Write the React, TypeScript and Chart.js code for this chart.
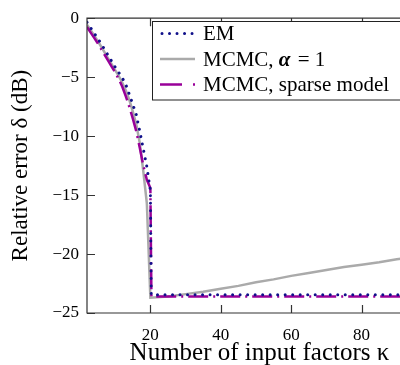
import React, { useEffect, useRef } from 'react';
import { Chart, registerables } from 'chart.js';

Chart.register(...registerables);

// ---- data ----
const seriesLabels = ['EM', 'MCMC, ', 'MCMC, sparse model'];
const xTickValues = [20, 40, 60, 80];
const yTickValues = [0, -5, -10, -15, -20, -25];
const xTitle = 'Number of input factors κ';
const yTitle = 'Relative error δ (dB)';

const emX = [2, 3, 4, 5, 6, 7, 8, 9, 10, 11, 12, 13, 14, 15, 16, 17, 18, 19, 20, 20.25, 30, 40, 50, 60, 70, 80, 90, 100];
const emY = [-0.35, -0.8, -1.25, -1.7, -2.15, -2.65, -3.15, -3.65, -4.15, -4.6, -5.05, -5.6, -6.45, -7.3, -8.2, -9.6, -11.1, -12.6, -14.6, -23.45, -23.45, -23.45, -23.45, -23.45, -23.45, -23.45, -23.45, -23.45];

const mcmcX = [2, 3, 4, 5, 6, 7, 8, 9, 10, 11, 12, 13, 14, 15, 16, 17, 18, 19, 20, 25, 30, 35, 40, 45, 50, 55, 60, 65, 70, 75, 80, 85, 90, 95, 100];
const mcmcY = [-0.55, -1.0, -1.45, -1.9, -2.4, -2.9, -3.4, -3.9, -4.4, -4.9, -5.45, -6.1, -6.9, -7.9, -9.0, -10.6, -13.0, -15.7, -23.7, -23.6, -23.4, -23.2, -22.95, -22.7, -22.4, -22.15, -21.85, -21.6, -21.35, -21.1, -20.9, -20.7, -20.45, -20.25, -20.05];

const sparseX = [2, 3, 4, 5, 6, 7, 8, 9, 10, 11, 12, 13, 14, 15, 16, 17, 18, 19, 20, 20.3, 30, 40, 50, 60, 70, 80, 90, 100];
const sparseY = [-0.75, -1.2, -1.65, -2.1, -2.6, -3.1, -3.6, -4.1, -4.6, -5.15, -5.8, -6.6, -7.5, -8.5, -9.6, -11.0, -12.5, -13.7, -14.4, -23.6, -23.6, -23.6, -23.6, -23.6, -23.6, -23.6, -23.6, -23.6];

const X_MIN = 2;
const X_MAX = 100;

const EM_COLOR = '#10108a';
const MCMC_COLOR = '#aaaaaa';
const SPARSE_COLOR = '#990099';
const FONT = '"Liberation Serif", serif';

const pts = (xs: number[], ys: number[]) => xs.map((x, i) => ({ x, y: ys[i] }));
const fmt = (v: number) => (v < 0 ? '\u2212' + Math.abs(v) : String(v));

const framePlugin = {
  id: 'frameAndLegend',
  afterDatasetsDraw(chart: any) {
    const { ctx, chartArea: a, scales } = chart;
    const x = scales.x;
    const y = scales.y;
    ctx.save();
    ctx.strokeStyle = '#333';
    ctx.lineWidth = 1.2;
    ctx.setLineDash([]);
    ctx.beginPath();
    ctx.rect(a.left, a.top, a.right - a.left, a.bottom - a.top);
    const tl = 8;
    for (const t of x.ticks) {
      const px = Math.round(x.getPixelForValue(t.value)) + 0.5;
      ctx.moveTo(px, a.bottom);
      ctx.lineTo(px, a.bottom - tl);
      ctx.moveTo(px, a.top);
      ctx.lineTo(px, a.top + tl);
    }
    for (const t of y.ticks) {
      const py = Math.round(y.getPixelForValue(t.value)) + 0.5;
      ctx.moveTo(a.left, py);
      ctx.lineTo(a.left + tl, py);
      ctx.moveTo(a.right, py);
      ctx.lineTo(a.right - tl, py);
    }
    ctx.stroke();

    // legend box
    const bx = 152.5, by = 21.5, bw = 273, bh = 78.5;
    ctx.fillStyle = '#fff';
    ctx.fillRect(bx, by, bw, bh);
    ctx.strokeStyle = '#222';
    ctx.lineWidth = 1;
    ctx.strokeRect(bx, by, bw, bh);

    const rows = [33.5, 59, 84.5];
    const lx0 = 160, lx1 = 195, tx = 203;
    // EM sample
    ctx.beginPath();
    ctx.strokeStyle = EM_COLOR;
    ctx.lineWidth = 3;
    ctx.lineCap = 'round';
    ctx.setLineDash([0.01, 7.5]);
    ctx.moveTo(lx0 + 2, rows[0]);
    ctx.lineTo(lx1, rows[0]);
    ctx.stroke();
    // MCMC sample
    ctx.beginPath();
    ctx.strokeStyle = MCMC_COLOR;
    ctx.lineWidth = 2.5;
    ctx.lineCap = 'butt';
    ctx.setLineDash([]);
    ctx.moveTo(lx0, rows[1]);
    ctx.lineTo(lx1, rows[1]);
    ctx.stroke();
    // sparse sample
    ctx.beginPath();
    ctx.strokeStyle = SPARSE_COLOR;
    ctx.lineWidth = 2.5;
    ctx.setLineDash([22, 11, 2, 20]);
    ctx.moveTo(lx0, rows[2]);
    ctx.lineTo(lx1, rows[2]);
    ctx.stroke();
    ctx.setLineDash([]);

    ctx.fillStyle = '#000';
    ctx.textBaseline = 'alphabetic';
    ctx.textAlign = 'left';
    const fs = 21;
    ctx.font = `${fs}px ${FONT}`;
    ctx.fillText(seriesLabels[0], tx, rows[0] + 6.5);
    ctx.fillText(seriesLabels[1], tx, rows[1] + 6.5);
    const w = ctx.measureText(seriesLabels[1]).width;
    ctx.font = `italic bold ${fs}px ${FONT}`;
    ctx.fillText('α', tx + w, rows[1] + 6.5);
    const wa = ctx.measureText('α').width;
    ctx.font = `${fs}px ${FONT}`;
    ctx.fillText(' = 1', tx + w + wa + 2, rows[1] + 6.5);
    ctx.fillText(seriesLabels[2], tx, rows[2] + 6.5);
    ctx.restore();
  },
};

export default function App() {
  const ref = useRef<HTMLCanvasElement | null>(null);
  useEffect(() => {
    document.body.style.margin = '0';
    const canvas = ref.current;
    if (!canvas) return;
    const chart = new Chart(canvas, {
      type: 'line',
      data: {
        datasets: [
          {
            label: 'EM',
            data: pts(emX, emY),
            borderColor: EM_COLOR,
            borderWidth: 3,
            borderDash: [0.01, 7.5],
            borderCapStyle: 'round',
            pointRadius: 0,
            tension: 0,
            order: 0,
          },
          {
            label: 'MCMC, α = 1',
            data: pts(mcmcX, mcmcY),
            borderColor: MCMC_COLOR,
            borderWidth: 2.5,
            pointRadius: 0,
            tension: 0,
            order: 2,
          },
          {
            label: 'MCMC, sparse model',
            data: pts(sparseX, sparseY),
            borderColor: SPARSE_COLOR,
            borderWidth: 2.5,
            borderDash: [20, 5, 2, 5],
            pointRadius: 0,
            tension: 0,
            order: 1,
          },
        ],
      },
      options: {
        animation: false,
        responsive: false,
        devicePixelRatio: 1,
        layout: { padding: { top: 11, right: 1, left: 0, bottom: 0 } },
        plugins: { legend: { display: false }, tooltip: { enabled: false } },
        scales: {
          x: {
            type: 'linear',
            min: X_MIN,
            max: X_MAX,
            afterBuildTicks: (s: any) => {
              s.ticks = xTickValues.map((v) => ({ value: v }));
            },
            afterFit: (s: any) => {
              s.height = 52;
            },
            grid: { display: false, drawTicks: false },
            border: { display: false },
            ticks: {
              padding: 12,
              color: '#000',
              font: { family: FONT, size: 17 },
              maxRotation: 0,
              autoSkip: false,
              callback: (v: any) => fmt(Number(v)),
            },
            title: {
              display: true,
              text: xTitle,
              color: '#000',
              font: { family: FONT, size: 25 },
              padding: { top: 0, bottom: -3 },
            },
          },
          y: {
            type: 'linear',
            min: -25,
            max: 0,
            afterBuildTicks: (s: any) => {
              s.ticks = yTickValues.map((v) => ({ value: v }));
            },
            afterFit: (s: any) => {
              s.width = 87;
            },
            grid: { display: false, drawTicks: false },
            border: { display: false },
            ticks: {
              padding: 8,
              color: '#000',
              font: { family: FONT, size: 17 },
              autoSkip: false,
              callback: (v: any) => fmt(Number(v)),
            },
            title: {
              display: true,
              text: yTitle,
              color: '#000',
              font: { family: FONT, size: 23 },
              padding: { top: 7, bottom: 0 },
            },
          },
        },
      },
      plugins: [framePlugin],
    } as any);
    return () => chart.destroy();
  }, []);
  return (
    <div style={{ position: 'absolute', left: 0, top: 0, width: 400, height: 365, overflow: 'hidden' }}>
      <canvas ref={ref} width={433} height={365} style={{ width: 433, height: 365 }} />
    </div>
  );
}
